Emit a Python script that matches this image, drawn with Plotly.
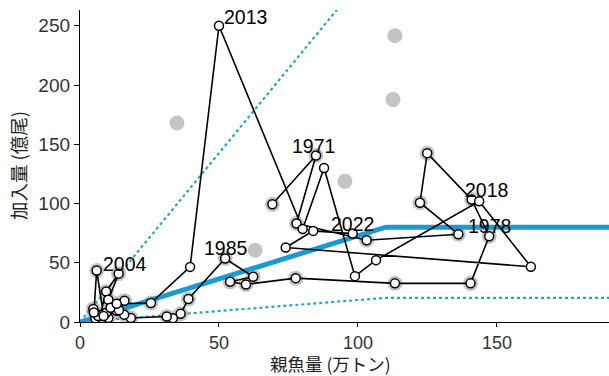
import plotly.graph_objects as go

# Spawning stock biomass (10^4 t) and recruitment (10^8 fish), 1970-2022
years = list(range(1970, 2023))
ssb = [69.2, 84.9, 77.9, 103.1, 136.1, 122.3, 124.9, 140.9, 147.2, 140.5,
       113.3, 77.6, 59.7, 54.0, 62.3, 52.2, 39.0, 36.2, 33.4, 31.2,
       18.3, 15.9, 13.8, 10.2, 6.0, 7.3, 9.4, 13.9, 10.2, 9.4,
       4.8, 5.5, 6.5, 5.0, 6.0, 8.5, 13.2, 11.0, 14.0, 16.0,
       13.2, 25.5, 39.6, 50.0, 80.1, 87.8, 98.9, 106.5, 143.6, 162.2,
       74.0, 83.9, 98.1]
rec = [99.3, 140.5, 83.1, 69.0, 74.1, 100.7, 142.5, 103.3, 72.4, 32.6,
       32.6, 37.0, 31.7, 33.9, 38.2, 53.6, 19.4, 7.0, 3.2, 4.7,
       3.4, 6.2, 15.2, 3.4, 4.7, 6.2, 25.8, 40.8, 18.8, 7.6,
       11.0, 3.0, 5.0, 8.0, 43.5, 5.0, 9.5, 12.0, 10.0, 18.0,
       15.4, 16.0, 46.5, 250.0, 78.5, 129.9, 38.7, 52.2, 101.9, 46.6,
       62.9, 76.9, 74.6]

# Previous-assessment estimates drawn as grey discs
prev_ssb = [69.2, 84.9, 77.9, 103.1, 136.1, 122.3, 124.9, 140.9, 147.2, 140.5,
            113.3, 77.6, 59.7, 54.0, 62.3, 52.2, 39.0, 36.2, 33.4, 31.2,
            18.3, 15.9, 13.8, 10.2, 6.0, 7.3, 9.4, 13.9, 10.2, 9.4,
            4.8, 5.5, 6.5, 5.0, 6.0, 8.5, 13.2, 11.0, 14.0, 16.0,
            13.2, 25.5, 34.9, 63.0, 95.3, 112.6, 113.3]
prev_rec = [99.3, 140.5, 83.1, 69.0, 74.1, 100.7, 142.5, 103.3, 72.4, 32.6,
            32.6, 37.0, 31.7, 33.9, 38.2, 53.6, 19.4, 7.0, 3.2, 4.7,
            3.4, 6.2, 15.2, 3.4, 4.7, 6.2, 25.8, 40.8, 18.8, 7.6,
            11.0, 3.0, 5.0, 8.0, 43.5, 5.0, 9.5, 12.0, 10.0, 18.0,
            15.4, 16.0, 168.0, 60.6, 118.7, 187.7, 241.6]

# Hockey-stick stock-recruitment curve and its 10% / 90% bands
hs_ssb = [0, 110, 190.3]
hs_rec = [0, 80, 80]
hs_low = [0, 20.4, 20.4]
hs_high = [0, 313.6, 313.6]

x_title = "親魚量 (万トン)"
y_title = "加入量 (億尾)"

# year -> (x shift px, y shift px, horizontal anchor) for the year labels
labelled = {1971: (-3, 0, "center"), 1978: (0, 0, "center"), 1985: (1, 0, "center"),
            2004: (4, -4, "left"), 2013: (3, -1, "left"), 2018: (7, 1, "center"),
            2022: (0, 0, "center")}

fig = go.Figure()
fig.add_trace(go.Scatter(x=prev_ssb, y=prev_rec, mode="markers",
                         marker=dict(size=15, color="#c4c4c4", line=dict(width=0)),
                         hoverinfo="skip"))
fig.add_trace(go.Scatter(x=hs_ssb, y=hs_low, mode="lines",
                         line=dict(color="#2ba4c0", width=2.2, dash="dot")))
fig.add_trace(go.Scatter(x=hs_ssb, y=hs_high, mode="lines",
                         line=dict(color="#2ba4c0", width=2.2, dash="dot")))
fig.add_trace(go.Scatter(x=hs_ssb, y=hs_rec, mode="lines",
                         line=dict(color="#1b9bd1", width=5)))
fig.add_trace(go.Scatter(x=ssb, y=rec, mode="lines+markers",
                         line=dict(color="black", width=1.6),
                         marker=dict(size=9, color="white", line=dict(color="black", width=1.5)),
                         text=[str(y) for y in years]))

for yr, (dx, dy, anchor) in labelled.items():
    i = years.index(yr)
    fig.add_annotation(x=ssb[i], y=rec[i], text=str(yr), showarrow=False,
                       xanchor=anchor, yanchor="bottom", xshift=dx, yshift=dy - 3,
                       font=dict(size=19.5, color="black", family="Liberation Sans, Arial"))

# axis titles placed as paper-anchored text
fig.add_annotation(x=0.474, y=-0.1315, xref="paper", yref="paper", text=x_title,
                   showarrow=False, xanchor="center", yanchor="middle",
                   font=dict(size=17.5, family="Noto Sans CJK JP", color="#222"))
fig.add_annotation(x=-0.117, y=0.5, xref="paper", yref="paper", text=y_title,
                   showarrow=False, xanchor="center", yanchor="middle", textangle=-90,
                   font=dict(size=18.5, family="Noto Sans CJK JP", color="#222"))

fig.update_layout(
    width=609, height=376, showlegend=False,
    margin=dict(l=80, r=0, t=10, b=54),
    plot_bgcolor="white", paper_bgcolor="white",
    font=dict(family="Liberation Sans, Arial, Noto Sans CJK JP", color="#222"),
    xaxis=dict(range=[0, 190.3], tickvals=[0, 50, 100, 150], showgrid=False, zeroline=False,
               showline=True, linecolor="black", linewidth=1.3, ticks="outside", ticklen=4,
               tickcolor="black", tickfont=dict(size=18, color="#333")),
    yaxis=dict(range=[0, 263.3], tickvals=[0, 50, 100, 150, 200, 250], showgrid=False, zeroline=False,
               showline=True, linecolor="black", linewidth=1.3, ticks="outside", ticklen=5,
               tickcolor="black", tickfont=dict(size=19, color="#333")),
)

fig.write_html("out.html")
